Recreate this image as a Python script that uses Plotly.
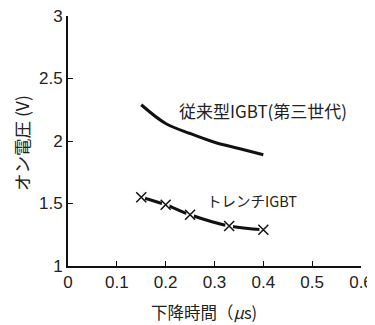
import plotly.graph_objects as go

conv_x = [0.15, 0.2, 0.25, 0.3, 0.35, 0.4]
conv_y = [2.29, 2.14, 2.06, 1.99, 1.94, 1.89]
trench_x = [0.15, 0.2, 0.25, 0.33, 0.4]
trench_y = [1.55, 1.49, 1.41, 1.32, 1.29]
x_ticks = [0, 0.1, 0.2, 0.3, 0.4, 0.5, 0.6]
x_labels = ["0", "0.1", "0.2", "0.3", "0.4", "0.5", "0.6"]
y_ticks = [1, 1.5, 2, 2.5, 3]
y_labels = ["1", "1.5", "2", "2.5", "3"]

num_font = "Liberation Sans, Arial"
jp = "Noto Sans CJK JP"

fig = go.Figure()
fig.add_trace(go.Scatter(x=conv_x, y=conv_y, mode="lines", line=dict(color="#111", width=3, shape="spline"), showlegend=False))
fig.add_trace(go.Scatter(x=trench_x, y=trench_y, mode="lines", line=dict(color="#111", width=3, shape="spline"), showlegend=False))
fig.add_trace(go.Scatter(x=trench_x, y=trench_y, mode="markers",
                         marker=dict(symbol="circle", size=8, color="white", line=dict(width=0)), showlegend=False))
fig.add_trace(go.Scatter(x=trench_x, y=trench_y, mode="markers",
                         marker=dict(symbol="x-thin", size=10, line=dict(color="#111", width=1.5)), showlegend=False))

fig.add_annotation(x=0.223, y=2.248, text="従来型IGBT(第三世代)", showarrow=False, xanchor="left",
                   font=dict(family=jp, size=17, color="#222"))
fig.add_annotation(x=0.281, y=1.528, text="トレンチIGBT", showarrow=False, xanchor="left",
                   font=dict(family=jp, size=14.5, color="#222"))
fig.add_annotation(xref="paper", yref="paper", x=(204 - 68) / 293, y=-(312 - 266) / 250,
                   text="下降時間（<i>μ</i>s)", showarrow=False, xanchor="center", yanchor="middle",
                   font=dict(family=jp, size=16.5, color="#222"))
fig.add_annotation(xref="paper", yref="paper", x=-(68 - 21) / 293, y=(266 - 143) / 250,
                   text="オン電圧 (V)", showarrow=False, xanchor="center", yanchor="middle", textangle=-90,
                   font=dict(family=jp, size=17.5, color="#222"))

fig.update_layout(
    width=367, height=317, margin=dict(l=60, r=14, t=8, b=59),
    paper_bgcolor="white", plot_bgcolor="white",
    font=dict(family=num_font, size=17, color="#222"),
    xaxis=dict(range=[0, 0.6], tickvals=x_ticks, ticktext=x_labels, showgrid=False, zeroline=False,
               showline=True, linecolor="#111", linewidth=2, ticks="inside", ticklen=5, tickcolor="#111",
               automargin=False, ticklabeloverflow="allow"),
    yaxis=dict(range=[1, 3], tickvals=y_ticks, ticktext=y_labels, showgrid=False, zeroline=False,
               showline=True, linecolor="#111", linewidth=2, ticks="inside", ticklen=5, tickcolor="#111",
               automargin=False, ticklabeloverflow="allow"),
)
fig.write_html("out.html")
